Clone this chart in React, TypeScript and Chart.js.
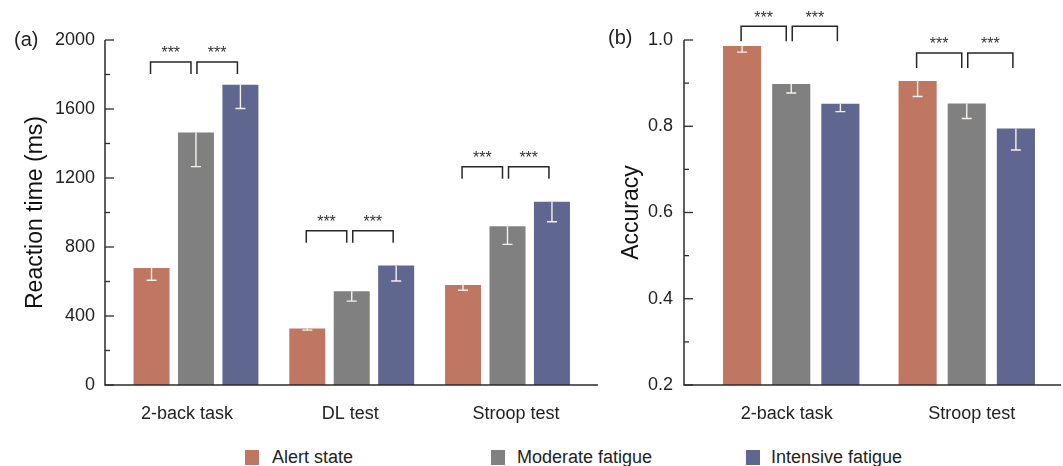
import React, { useEffect, useRef } from "react";
import { Chart, registerables } from "chart.js";

Chart.register(...registerables);

const FONT = "'Liberation Sans', Arial, Helvetica, sans-serif";

// Series
const SERIES = ["Alert state", "Moderate fatigue", "Intensive fatigue"];
const COLORS = ["#C07762", "#808080", "#5F6690"];
const ERR_COLOR = "#F6F1EA";
const AXIS_COLOR = "#2b2b2b";
const SIG_LABEL = "***";

// Panel (a): reaction time
const RT_CATEGORIES = ["2-back task", "DL test", "Stroop test"];
const RT_ALERT = [678, 328, 580];
const RT_MODERATE = [1464, 543, 921];
const RT_INTENSIVE = [1740, 693, 1062];
const RT_ALERT_LOW = [607, 318, 549];
const RT_MODERATE_LOW = [1266, 486, 815];
const RT_INTENSIVE_LOW = [1603, 603, 946];
const RT_BRACKET_Y = [1872, 894, 1265];
const RT_LABEL_POS = [-0.058, 0.99, 2.055];

// Panel (b): accuracy
const ACC_CATEGORIES = ["2-back task", "Stroop test"];
const ACC_ALERT = [0.986, 0.905];
const ACC_MODERATE = [0.898, 0.853];
const ACC_INTENSIVE = [0.852, 0.795];
const ACC_ALERT_LOW = [0.972, 0.869];
const ACC_MODERATE_LOW = [0.877, 0.818];
const ACC_INTENSIVE_LOW = [0.834, 0.745];
const ACC_BRACKET_Y = [1.032, 0.97];
const ACC_LABEL_POS = [-0.026, 1.029];

type Panel = {
  id: string;
  tag: string;
  tagX: number;
  tagY: number;
  categories: string[];
  values: number[][];
  lows: number[][];
  bracketY: number[];
  labelPos: number[];
  yMin: number;
  yMax: number;
  yStep: number;
  decimals: number;
  title: string;
  titlePad: number;
  yWidth: number;
  tickPad: number;
  xMin: number;
  xMax: number;
  catPct: number;
  barPct: number;
  legLen: number;
  width: number;
  padRight: number;
};

const PANEL_A: Panel = {
  id: "a",
  tag: "(a)",
  tagX: 14,
  tagY: 40,
  categories: RT_CATEGORIES,
  values: [RT_ALERT, RT_MODERATE, RT_INTENSIVE],
  lows: [RT_ALERT_LOW, RT_MODERATE_LOW, RT_INTENSIVE_LOW],
  bracketY: RT_BRACKET_Y,
  labelPos: RT_LABEL_POS,
  yMin: 0,
  yMax: 2000,
  yStep: 400,
  decimals: 0,
  title: "Reaction time (ms)",
  titlePad: 22,
  yWidth: 105,
  tickPad: 10,
  xMin: -0.584,
  xMax: 2.581,
  catPct: 0.856,
  barPct: 0.81,
  legLen: 12,
  width: 600,
  padRight: 2,
};

const PANEL_B: Panel = {
  id: "b",
  tag: "(b)",
  tagX: 8,
  tagY: 38,
  categories: ACC_CATEGORIES,
  values: [ACC_ALERT, ACC_MODERATE, ACC_INTENSIVE],
  lows: [ACC_ALERT_LOW, ACC_MODERATE_LOW, ACC_INTENSIVE_LOW],
  bracketY: ACC_BRACKET_Y,
  labelPos: ACC_LABEL_POS,
  yMin: 0.2,
  yMax: 1.0,
  yStep: 0.2,
  decimals: 1,
  title: "Accuracy",
  titlePad: 18,
  yWidth: 84,
  tickPad: 11,
  xMin: -0.611,
  xMax: 1.537,
  catPct: 0.84,
  barPct: 0.776,
  legLen: 15,
  width: 463,
  padRight: 2,
};

const CANVAS_H = 430;
const AREA_TOP = 40;
const AREA_BOTTOM = 385;

function makePlugin(p: Panel) {
  return {
    id: "decor_" + p.id,
    afterDatasetsDraw(chart: any) {
      const ctx: CanvasRenderingContext2D = chart.ctx;
      const a = chart.chartArea;
      const ys = chart.scales.y;
      ctx.save();

      // error bars (lower half, white)
      ctx.strokeStyle = ERR_COLOR;
      ctx.lineWidth = 1.4;
      p.lows.forEach((lowArr, i) => {
        const meta = chart.getDatasetMeta(i);
        meta.data.forEach((bar: any, j: number) => {
          const x = bar.x;
          const top = bar.y;
          const low = ys.getPixelForValue(lowArr[j]);
          ctx.beginPath();
          ctx.moveTo(x, top);
          ctx.lineTo(x, low);
          ctx.moveTo(x - 5, low);
          ctx.lineTo(x + 5, low);
          ctx.stroke();
        });
      });

      // axes
      ctx.strokeStyle = AXIS_COLOR;
      ctx.lineWidth = 1.5;
      ctx.beginPath();
      ctx.moveTo(a.left, a.top);
      ctx.lineTo(a.left, a.bottom);
      ctx.lineTo(a.right, a.bottom);
      ctx.stroke();

      // inward ticks, major and minor
      const minor = p.yStep / 2;
      const n = Math.round((p.yMax - p.yMin) / minor);
      ctx.lineWidth = 1.3;
      for (let k = 0; k <= n; k++) {
        const v = p.yMin + k * minor;
        const y = ys.getPixelForValue(v);
        const len = k % 2 === 0 ? 9 : 5;
        ctx.beginPath();
        ctx.moveTo(a.left, y);
        ctx.lineTo(a.left + len, y);
        ctx.stroke();
      }

      // significance brackets
      ctx.lineWidth = 1.5;
      ctx.strokeStyle = "#262626";
      ctx.fillStyle = "#333";
      ctx.font = `16px ${FONT}`;
      ctx.textAlign = "center";
      ctx.textBaseline = "middle";
      p.bracketY.forEach((bv, j) => {
        const yL = ys.getPixelForValue(bv);
        const c0 = chart.getDatasetMeta(0).data[j].x;
        const c1 = chart.getDatasetMeta(1).data[j].x;
        const c2 = chart.getDatasetMeta(2).data[j].x;
        const spans = [
          [c0 - 1, c1 - 5],
          [c1 + 1, c2 - 3],
        ];
        spans.forEach(([xa, xb]) => {
          ctx.beginPath();
          ctx.moveTo(xa, yL + p.legLen);
          ctx.lineTo(xa, yL);
          ctx.lineTo(xb, yL);
          ctx.lineTo(xb, yL + p.legLen);
          ctx.stroke();
          ctx.fillText(SIG_LABEL, (xa + xb) / 2, yL - 8);
        });
      });

      // panel tag
      ctx.fillStyle = "#222";
      ctx.font = `20px ${FONT}`;
      ctx.textAlign = "left";
      ctx.textBaseline = "middle";
      ctx.fillText(p.tag, p.tagX, p.tagY);

      ctx.restore();
    },
  };
}

function ChartPanel({ p, left }: { p: Panel; left: number }) {
  const ref = useRef<HTMLCanvasElement | null>(null);
  useEffect(() => {
    if (!ref.current) return;
    const datasets = p.values.map((vals, i) => ({
      label: SERIES[i],
      data: vals.map((v, j) => ({ x: j, y: v })),
      backgroundColor: COLORS[i],
      borderWidth: 0,
      categoryPercentage: p.catPct,
      barPercentage: p.barPct,
    }));
    const chart = new Chart(ref.current, {
      type: "bar",
      data: { datasets },
      options: {
        responsive: false,
        animation: false,
        devicePixelRatio: 1,
        layout: { padding: { top: AREA_TOP, left: 0, right: p.padRight, bottom: 0 } },
        plugins: { legend: { display: false }, tooltip: { enabled: false } },
        scales: {
          x: {
            type: "linear",
            offset: false,
            min: p.xMin,
            max: p.xMax,
            grid: { display: false },
            border: { display: false },
            afterBuildTicks: (scale: any) => {
              scale.ticks = p.labelPos.map((v) => ({ value: v }));
            },
            afterFit: (scale: any) => {
              scale.height = CANVAS_H - AREA_BOTTOM;
            },
            ticks: {
              autoSkip: false,
              maxRotation: 0,
              padding: 10,
              color: "#222",
              font: { family: FONT, size: 18 },
              callback: (_v: any, i: number) => p.categories[i] ?? "",
            },
          },
          y: {
            type: "linear",
            min: p.yMin,
            max: p.yMax,
            grid: { display: false, drawTicks: false },
            border: { display: false },
            afterFit: (scale: any) => {
              scale.width = p.yWidth;
            },
            ticks: {
              stepSize: p.yStep,
              padding: p.tickPad,
              color: "#222",
              font: { family: FONT, size: 18 },
              callback: (v: any) => Number(v).toFixed(p.decimals),
            },
            title: {
              display: true,
              text: p.title,
              color: "#111",
              font: { family: FONT, size: 23 },
              padding: { top: p.titlePad, bottom: 0 },
            },
          },
        },
      },
      plugins: [makePlugin(p)],
    } as any);
    return () => chart.destroy();
  }, [p]);
  return (
    <canvas
      ref={ref}
      width={p.width}
      height={CANVAS_H}
      style={{ position: "absolute", left, top: 0, width: p.width, height: CANVAS_H, display: "block" }}
    />
  );
}

const LEGEND_SQ_X = [245, 491, 746];
const LEGEND_TEXT_X = [272, 517, 771];

export default function App() {
  return (
    <div
      style={{
        position: "absolute",
        left: 0,
        top: 0,
        width: 1063,
        height: 466,
        background: "#fff",
        overflow: "hidden",
        fontFamily: FONT,
      }}
    >
      <ChartPanel p={PANEL_A} left={0} />
      <ChartPanel p={PANEL_B} left={600} />
      {SERIES.map((s, i) => (
        <React.Fragment key={s}>
          <div
            style={{
              position: "absolute",
              left: LEGEND_SQ_X[i],
              top: 450,
              width: 14,
              height: 15,
              background: COLORS[i],
            }}
          />
          <div
            style={{
              position: "absolute",
              left: LEGEND_TEXT_X[i],
              top: 448,
              fontSize: 18,
              lineHeight: "18px",
              color: "#222",
              whiteSpace: "nowrap",
            }}
          >
            {s}
          </div>
        </React.Fragment>
      ))}
    </div>
  );
}
